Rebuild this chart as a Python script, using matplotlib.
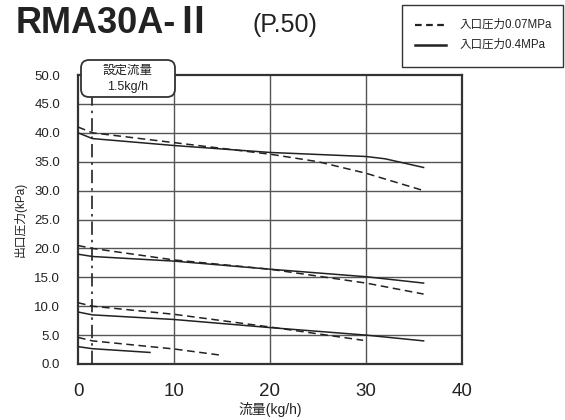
import matplotlib
matplotlib.use("Agg")
import matplotlib.pyplot as plt
from matplotlib.patches import FancyBboxPatch, Rectangle
from matplotlib.lines import Line2D

plt.rcParams['font.family'] = ['Liberation Sans', 'Noto Sans CJK JP', 'DejaVu Sans']

# 入口圧力0.07MPa (破線)
low_x = [
    [0, 1.5, 10, 20, 25, 30, 33, 36],
    [0, 1.5, 10, 20, 30, 36],
    [0, 1.5, 10, 20, 29.7],
    [0, 1.5, 10, 15],
]
low_y = [
    [41.0, 40.0, 38.3, 36.3, 35.0, 33.0, 31.5, 30.0],
    [20.5, 20.0, 18.0, 16.4, 14.0, 12.1],
    [10.6, 10.0, 8.6, 6.4, 4.1],
    [4.6, 4.0, 2.6, 1.5],
]

# 入口圧力0.4MPa (実線)
high_x = [
    [0, 1.5, 10, 20, 30, 32, 36],
    [0, 1.5, 10, 20, 30, 36],
    [0, 1.5, 10, 20, 30, 36],
    [0, 1.5, 7.5],
]
high_y = [
    [40.0, 39.0, 37.8, 36.6, 35.9, 35.5, 34.0],
    [19.0, 18.6, 17.8, 16.4, 15.1, 14.0],
    [9.0, 8.5, 7.7, 6.3, 5.0, 4.0],
    [3.0, 2.65, 2.0],
]

set_flow = 1.5
x_ticks = [0, 10, 20, 30, 40]
y_ticks = [0, 5, 10, 15, 20, 25, 30, 35, 40, 45, 50]

W, H = 565, 420
fig = plt.figure(figsize=(W / 100, H / 100), dpi=100)
ax = fig.add_axes([78 / W, 1 - 364 / H, (462 - 78) / W, (364 - 75) / H])


def px(x, y):
    # 画像ピクセル座標 -> インチ (fig.dpi_scale_trans 用)
    return x / 100, (H - y) / 100


for v in [10, 20, 30]:
    ax.axvline(v, color='#555555', lw=1.0, zorder=1)
for v in y_ticks[1:-1]:
    ax.axhline(v, color='#555555', lw=1.0, zorder=1)

for xs, ys in zip(low_x, low_y):
    ax.plot(xs, ys, color='#222222', lw=1.1, ls=(0, (5, 3)), zorder=3)
for xs, ys in zip(high_x, high_y):
    ax.plot(xs, ys, color='#222222', lw=1.1, ls='-', zorder=3)

# 設定流量の一点鎖線
ax.plot([set_flow, set_flow], [0, 46.2], color='#222222', lw=1.2,
        ls=(0, (8, 3, 1.5, 3)), zorder=3)

ax.set_xlim(0, 40)
ax.set_ylim(0, 50)
ax.set_xticks(x_ticks)
ax.set_xticklabels([str(t) for t in x_ticks], fontsize=13.5, color='#222222')
ax.set_yticks(y_ticks)
ax.set_yticklabels(['%.1f' % t for t in y_ticks], fontsize=9.5, color='#222222')
ax.tick_params(length=0)
ax.tick_params(axis='x', pad=14)
ax.tick_params(axis='y', pad=13)
for s in ax.spines.values():
    s.set_linewidth(1.6)
    s.set_color('#333333')

ax.set_xlabel('流量(kg/h)', fontsize=10, labelpad=1, color='#222222')
ax.set_ylabel('出口圧力(kPa)', fontsize=8.5, labelpad=5, color='#222222')

# 設定流量の枠
bx0, by0, bx1, by1 = 81, 60, 175, 97
x0, y0 = px(bx0, by1)
box = FancyBboxPatch((x0, y0), (bx1 - bx0) / 100, (by1 - by0) / 100,
                     boxstyle='round,pad=0,rounding_size=0.08',
                     transform=fig.dpi_scale_trans, fc='white', ec='#333333',
                     lw=1.3, zorder=10)
fig.add_artist(box)
tx, ty = px((bx0 + bx1) / 2, 71)
fig.text(tx, ty, '設定流量', transform=fig.dpi_scale_trans, ha='center',
         va='center', fontsize=9, color='#222222', zorder=11)
tx, ty = px((bx0 + bx1) / 2, 87)
fig.text(tx, ty, '1.5kg/h', transform=fig.dpi_scale_trans, ha='center',
         va='center', fontsize=9, color='#222222', zorder=11)

tx, ty = px(16, 33)
fig.text(tx, ty, 'RMA30A-Ⅱ', transform=fig.dpi_scale_trans, fontsize=26,
         fontweight='bold', color='#222222', ha='left', va='baseline')
tx, ty = px(252, 32)
fig.text(tx, ty, '(P.50)', transform=fig.dpi_scale_trans, fontsize=18,
         color='#222222', ha='left', va='baseline')

# 凡例
lx0, ly0, lx1, ly1 = 402, 5, 563, 67
x0, y0 = px(lx0, ly1)
fig.add_artist(Rectangle((x0, y0), (lx1 - lx0) / 100, (ly1 - ly0) / 100,
                         transform=fig.dpi_scale_trans, fill=False,
                         ec='#333333', lw=1.0))
fig.add_artist(Line2D([4.15, 4.46], [px(0, 25)[1]] * 2, transform=fig.dpi_scale_trans,
                      color='#222222', lw=1.6, ls=(0, (3, 2))))
fig.add_artist(Line2D([4.15, 4.46], [px(0, 45)[1]] * 2, transform=fig.dpi_scale_trans,
                      color='#222222', lw=1.8))
tx, ty = px(460, 25)
fig.text(tx, ty, '入口圧力0.07MPa', transform=fig.dpi_scale_trans, fontsize=8.3,
         va='center', color='#222222')
tx, ty = px(460, 45)
fig.text(tx, ty, '入口圧力0.4MPa', transform=fig.dpi_scale_trans, fontsize=8.3,
         va='center', color='#222222')

fig.savefig('out.png', dpi=100)
